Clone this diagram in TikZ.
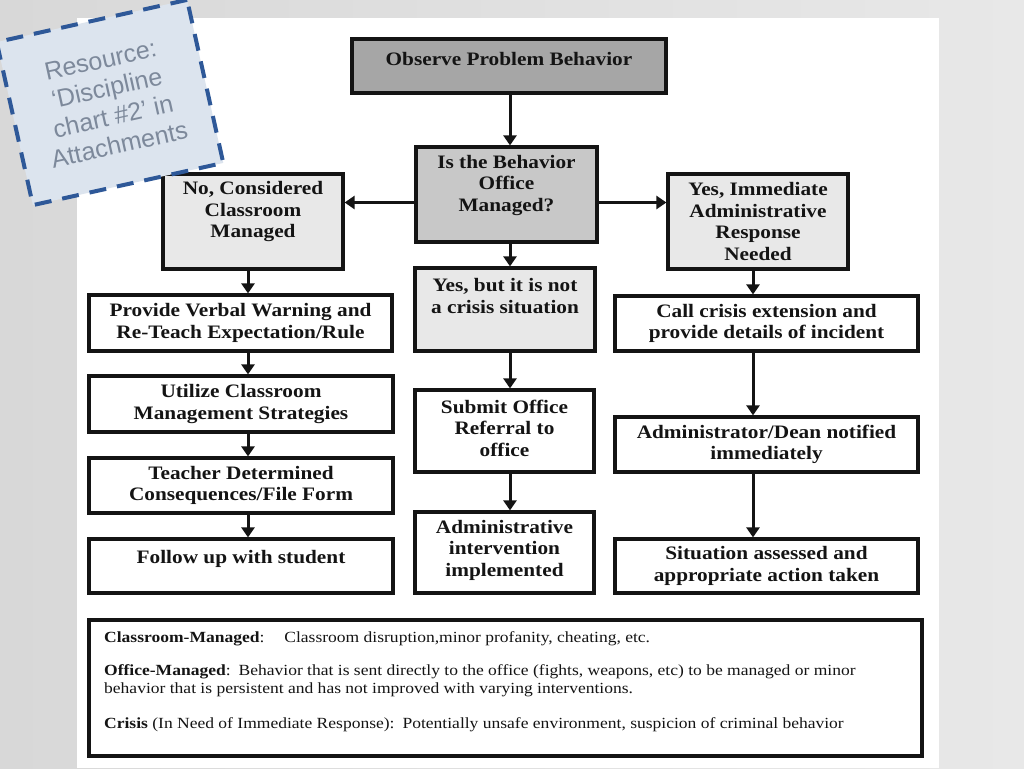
\documentclass[tikz,border=0pt]{standalone}
\usepackage{fontspec}
\setmainfont{Liberation Serif}
\newfontfamily\boxfont[FakeStretch=1.12]{Liberation Serif}
\newfontfamily\legfont[FakeStretch=1.13]{Liberation Serif}
\newfontfamily\notefont{Liberation Sans}
\usetikzlibrary{arrows.meta,calc}
\definecolor{bgleft}{RGB}{216,216,216}
\definecolor{bgright}{RGB}{232,232,232}
\definecolor{darkfill}{RGB}{166,166,166}
\definecolor{midfill}{RGB}{200,200,200}
\definecolor{lightfill}{RGB}{232,232,232}
\definecolor{notefill}{RGB}{220,228,238}
\definecolor{notedash}{RGB}{46,88,152}
\definecolor{notetext}{RGB}{125,137,155}
\definecolor{ink}{RGB}{20,20,20}
\begin{document}
\begin{tikzpicture}[x=1pt,y=-1pt,
  box/.style={draw=ink, line width=3.2pt, fill=white, inner sep=0pt},
  txt/.style={inner sep=0pt, align=center, text=ink,
    font=\boxfont\bfseries\fontsize{19}{21.5}\selectfont},
  arr/.style={draw=ink, line width=3pt, -{Triangle[width=13pt,length=10pt]}},
  note/.style={draw=notedash, line width=4pt, dash pattern=on 17pt off 11pt,
    fill=notefill, inner sep=0pt, align=center, text=notetext,
    font=\notefont\fontsize{25}{29}\selectfont},
  leg/.style={inner sep=0pt, align=left, text=ink,
    font=\legfont\fontsize{15.5}{18}\selectfont}]
\useasboundingbox (0,0) rectangle (1024,768);
\shade[left color=bgleft, right color=bgright] (0,0) rectangle (1024,768);
\fill[white] (77,18) rectangle (939,768);

% boxes
\node[box, fill=darkfill, minimum width=314, minimum height=54] (obs) at (509,66) {};
\node[txt] (obs-t) at ($(obs.center)+(0,-7)$) {Observe Problem Behavior};

\node[box, fill=midfill, minimum width=181, minimum height=95] (isb) at (506.5,194.5) {};
\node[txt] (isb-t) at ($(isb.center)+(0,-9)$) {Is the Behavior\\Office\\Managed?};

\node[box, fill=lightfill, minimum width=180, minimum height=95] (no) at (253,221.5) {};
\node[txt] (no-t) at ($(no.center)+(0,-9.5)$) {No, Considered\\Classroom\\Managed};

\node[box, fill=lightfill, minimum width=180, minimum height=95] (yes) at (758,221.5) {};
\node[txt] (yes-t) at (yes.center) {Yes, Immediate\\Administrative\\Response\\Needed};

\node[box, fill=lightfill, minimum width=180, minimum height=83] (yesbut) at (505,309.5) {};
\node[txt] (yesbut-t) at ($(yesbut.center)+(0,-13.5)$) {Yes, but it is not\\a crisis situation};

\node[box, minimum width=303, minimum height=56] (provide) at (240.5,323) {};
\node[txt] (provide-t) at (provide.center) {Provide Verbal Warning and\\Re-Teach Expectation/Rule};

\node[box, minimum width=304, minimum height=56] (util) at (241,404) {};
\node[txt] (util-t) at (util.center) {Utilize Classroom\\Management Strategies};

\node[box, minimum width=304, minimum height=55] (teach) at (241,485.5) {};
\node[txt] (teach-t) at (teach.center) {Teacher Determined\\Consequences/File Form};

\node[box, minimum width=304, minimum height=54] (follow) at (241,566) {};
\node[txt] (follow-t) at ($(follow.center)+(0,-7)$) {Follow up with student};

\node[box, minimum width=179, minimum height=82] (submit) at (504.5,431) {};
\node[txt] (submit-t) at ($(submit.center)+(0,-3)$) {Submit Office\\Referral to\\office};

\node[box, minimum width=179, minimum height=81] (adminint) at (504.5,552.5) {};
\node[txt] (adminint-t) at ($(adminint.center)+(0,-2.5)$) {Administrative\\intervention\\implemented};

\node[box, minimum width=303, minimum height=55] (call) at (766.5,323.5) {};
\node[txt] (call-t) at (call.center) {Call crisis extension and\\provide details of incident};

\node[box, minimum width=303, minimum height=55] (dean) at (766.5,444.5) {};
\node[txt] (dean-t) at (dean.center) {Administrator/Dean notified\\immediately};

\node[box, minimum width=303, minimum height=54] (sit) at (766.5,566) {};
\node[txt] (sit-t) at (sit.center) {Situation assessed and\\appropriate action taken};

% legend
\node[box, line width=3.2pt, minimum width=833, minimum height=136] (legend) at (505.5,688) {};
\node[leg, anchor=north west] (legend-t) at (104,631.5) {%
\textbf{Classroom-Managed}:\hspace{20pt}Classroom disruption,minor profanity, cheating, etc.\\[15pt]
\textbf{Office-Managed}:\hspace{8pt}Behavior that is sent directly to the office (fights, weapons, etc) to be managed or minor\\
behavior that is persistent and has not improved with varying interventions.\\[17pt]
\textbf{Crisis} (In Need of Immediate Response):\hspace{8pt}Potentially unsafe environment, suspicion of criminal behavior};

% connectors
\coordinate (lx) at (248,0);
\coordinate (mx) at (510,0);
\coordinate (rx) at (753,0);
\coordinate (ay) at (0,202.5);
\draw[arr] (obs.south -| mx) -- (isb.north -| mx);
\draw[arr] (isb.west |- ay) -- (no.east |- ay);
\draw[arr] (isb.east |- ay) -- (yes.west |- ay);
\draw[arr] (isb.south -| mx) -- (yesbut.north -| mx);
\draw[arr] (yesbut.south -| mx) -- (submit.north -| mx);
\draw[arr] (submit.south -| mx) -- (adminint.north -| mx);
\draw[arr] (no.south -| lx) -- (provide.north -| lx);
\draw[arr] (provide.south -| lx) -- (util.north -| lx);
\draw[arr] (util.south -| lx) -- (teach.north -| lx);
\draw[arr] (teach.south -| lx) -- (follow.north -| lx);
\draw[arr] (yes.south -| rx) -- (call.north -| rx);
\draw[arr] (call.south -| rx) -- (dean.north -| rx);
\draw[arr] (dean.south -| rx) -- (sit.north -| rx);

% resource note
\node[note, rotate=12.5, minimum width=195, minimum height=167] (res) at (110,102.5)
  {Resource:\\‘Discipline\\chart \#2’ in\\Attachments};
\end{tikzpicture}
\end{document}
